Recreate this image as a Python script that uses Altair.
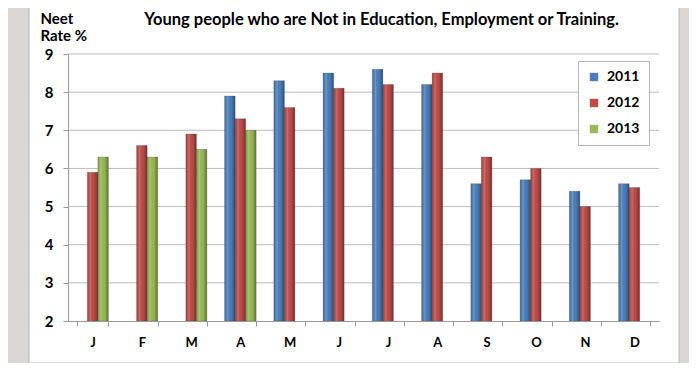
import altair as alt
import pandas as pd

months = ["Jan", "Feb", "Mar", "Apr", "May", "Jun", "Jul", "Aug", "Sep", "Oct", "Nov", "Dec"]
years = ["2011", "2012", "2013"]
rate_2011 = [None, None, None, 7.9, 8.3, 8.5, 8.6, 8.2, 5.6, 5.7, 5.4, 5.6]
rate_2012 = [5.9, 6.6, 6.9, 7.3, 7.6, 8.1, 8.2, 8.5, 6.3, 6.0, 5.0, 5.5]
rate_2013 = [6.3, 6.3, 6.5, 7.0, None, None, None, None, None, None, None, None]
y_ticks = [2, 3, 4, 5, 6, 7, 8, 9]
colors = ["#4a7ebb", "#be4b48", "#98b954"]

rows = []
for yr, series in zip(years, [rate_2011, rate_2012, rate_2013]):
    for m, v in zip(months, series):
        if v is not None:
            rows.append({"month": m, "year": yr, "rate": v})
df = pd.DataFrame(rows)

FONT = "Lato"

y_scale = alt.Scale(domain=[2, 9], nice=False, zero=False, clamp=True)

x_enc = alt.X("month:N", sort=months,
              scale=alt.Scale(paddingInner=0.36, paddingOuter=0.18),
              axis=alt.Axis(title=None, labelExpr="substring(datum.label, 0, 1)",
                            labelAngle=0, labelFontSize=13, labelFontWeight="bold",
                            labelPadding=10, tickSize=5, tickBand="extent",
                            domainColor="#9a9a9a", tickColor="#9a9a9a", grid=False,
                            zindex=1))
xoff_enc = alt.XOffset("year:N", scale=alt.Scale(domain=years, paddingInner=0, paddingOuter=0))
y_enc = alt.Y("rate:Q", scale=y_scale,
              axis=alt.Axis(title=["Neet", "Rate %"], titleAngle=0, titleAlign="left",
                            titleBaseline="alphabetic", titleX=-28, titleY=-31,
                            titleFontSize=15, titleFontWeight="bold", titleLineHeight=17,
                            values=y_ticks, labelOverlap=False, labelFontSize=15,
                            labelFontWeight="bold", labelPadding=10, tickSize=5,
                            domainColor="#9a9a9a", tickColor="#9a9a9a",
                            grid=False, zindex=1))

panel = alt.Chart(pd.DataFrame({"k": [0]})).mark_rect(
    fill="white", stroke="#b5b5b5", strokeWidth=1
).encode(x=alt.value(-39), x2=alt.value(611), y=alt.value(-60), y2=alt.value(309))

grid = alt.Chart(pd.DataFrame({"rate": y_ticks[1:]})).mark_rule(
    color="#bdbdbd", strokeWidth=1
).encode(y=y_enc, x=alt.value(0), x2=alt.value(591))

bars = alt.Chart(df).mark_bar(stroke="#3a3a3a", strokeWidth=0.4, strokeOpacity=0.6).encode(
    x=x_enc, xOffset=xoff_enc, y=y_enc,
    color=alt.Color("year:N", scale=alt.Scale(domain=years, range=colors),
                    legend=alt.Legend(title=None, orient="none", legendX=510, legendY=7,
                                      symbolType="square", symbolSize=70,
                                      labelFontSize=14, labelFontWeight="bold",
                                      rowPadding=12, padding=9, strokeColor="#b5b5b5",
                                      fillColor="white", labelOffset=6,
                                      symbolStrokeWidth=0))
)

shade = alt.Chart(df).mark_bar(
    color=alt.LinearGradient(
        gradient="linear", x1=0, x2=1, y1=0, y2=0,
        stops=[alt.GradientStop(color="rgba(0,0,0,0.15)", offset=0),
               alt.GradientStop(color="rgba(255,255,255,0.18)", offset=0.3),
               alt.GradientStop(color="rgba(0,0,0,0.0)", offset=0.6),
               alt.GradientStop(color="rgba(0,0,0,0.35)", offset=1)])
).encode(x=x_enc, xOffset=xoff_enc, y=y_enc)

chart = alt.layer(panel, grid, bars, shade).properties(
    width=591, height=267,
    autosize=alt.AutoSizeParams(type="none"),
    padding={"left": 60, "top": 46, "right": 30, "bottom": 42},
    background="#dcd7d2",
    title=alt.TitleParams("Young people who are Not in Education, Employment or Training.",
                          anchor="middle", frame="group", dx=18, fontSize=16.5,
                          fontWeight="bold", offset=0, dy=35, color="black"),
).configure(font=FONT).configure_view(stroke=None).configure_axis(
    labelColor="black", titleColor="black")

chart.save("out.html", embed_options={"renderer": "svg", "actions": False})
